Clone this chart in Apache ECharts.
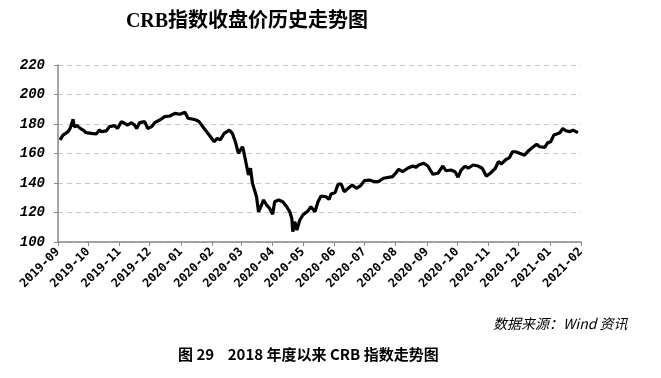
<!DOCTYPE html>
<html>
<head>
<meta charset="utf-8">
<script src="https://cdn.jsdelivr.net/npm/echarts@6/dist/echarts.min.js"></script>
<style>
    html, body { margin: 0; padding: 0; background: #fff; }
    #chart { width: 661px; height: 378px; }
</style>
</head>
<body>
<div id="chart"></div>
<script>
// CRB index close
const dates = [
    "2019-09-03", "2019-09-06", "2019-09-11", "2019-09-13", "2019-09-16", "2019-09-17", "2019-09-20", "2019-09-23",
    "2019-09-26", "2019-09-29", "2019-10-04", "2019-10-09", "2019-10-12", "2019-10-14", "2019-10-19", "2019-10-22",
    "2019-10-27", "2019-10-30", "2019-11-03", "2019-11-06", "2019-11-09", "2019-11-13", "2019-11-16", "2019-11-18",
    "2019-11-21", "2019-11-26", "2019-11-29", "2019-12-03", "2019-12-06", "2019-12-11", "2019-12-16", "2019-12-21",
    "2019-12-26", "2019-12-31", "2020-01-05", "2020-01-08", "2020-01-13", "2020-01-16", "2020-01-19", "2020-01-24",
    "2020-01-29", "2020-02-03", "2020-02-06", "2020-02-09", "2020-02-13", "2020-02-18", "2020-02-21", "2020-02-24",
    "2020-02-27", "2020-03-02", "2020-03-03", "2020-03-06", "2020-03-08", "2020-03-10", "2020-03-12", "2020-03-16",
    "2020-03-18", "2020-03-21", "2020-03-23", "2020-03-26", "2020-03-29", "2020-04-01", "2020-04-03", "2020-04-07",
    "2020-04-11", "2020-04-15", "2020-04-18", "2020-04-20", "2020-04-21", "2020-04-23", "2020-04-25", "2020-04-28",
    "2020-05-01", "2020-05-06", "2020-05-09", "2020-05-13", "2020-05-16", "2020-05-19", "2020-05-24", "2020-05-27",
    "2020-05-29", "2020-06-02", "2020-06-05", "2020-06-08", "2020-06-11", "2020-06-15", "2020-06-19", "2020-06-23",
    "2020-06-27", "2020-07-01", "2020-07-06", "2020-07-11", "2020-07-15", "2020-07-20", "2020-07-29", "2020-08-01",
    "2020-08-04", "2020-08-08", "2020-08-13", "2020-08-18", "2020-08-21", "2020-08-24", "2020-08-29", "2020-09-02",
    "2020-09-07", "2020-09-12", "2020-09-17", "2020-09-20", "2020-09-25", "2020-09-29", "2020-10-02", "2020-10-05",
    "2020-10-09", "2020-10-12", "2020-10-17", "2020-10-22", "2020-10-26", "2020-10-30", "2020-11-03", "2020-11-08",
    "2020-11-11", "2020-11-14", "2020-11-18", "2020-11-22", "2020-11-25", "2020-11-28", "2020-12-02", "2020-12-07",
    "2020-12-11", "2020-12-15", "2020-12-19", "2020-12-22", "2020-12-27", "2020-12-30", "2021-01-02", "2021-01-05",
    "2021-01-08", "2021-01-11", "2021-01-14", "2021-01-17", "2021-01-21", "2021-01-24", "2021-01-29"
];
const closes = [
    169.2, 172.5, 174.8, 177.0, 183.2, 178.2, 178.9, 177.0,
    175.9, 174.1, 173.7, 173.2, 175.9, 174.8, 175.3, 178.2,
    178.9, 177.0, 181.6, 180.5, 179.3, 180.9, 179.3, 177.0,
    180.9, 181.6, 177.0, 178.2, 180.9, 182.7, 185.0, 185.4,
    187.2, 186.6, 187.9, 183.9, 183.2, 182.7, 181.6, 177.0,
    172.5, 168.0, 170.3, 169.2, 173.7, 175.9, 173.7, 168.0,
    160.1, 164.6, 162.4, 152.2, 145.4, 150.0, 139.8, 130.7,
    120.5, 125.1, 128.5, 125.1, 122.8, 118.8, 127.3, 128.5,
    127.3, 123.9, 120.5, 116.0, 107.0, 113.8, 108.1, 114.9,
    118.3, 121.0, 123.9, 120.5, 127.3, 131.2, 130.7, 128.9,
    132.5, 133.5, 139.3, 139.3, 134.1, 136.4, 138.6, 136.4,
    138.0, 141.6, 142.0, 140.9, 140.9, 143.2, 144.3, 146.6,
    149.3, 147.7, 150.0, 151.5, 150.6, 152.2, 153.4, 151.5,
    145.9, 146.6, 151.5, 148.3, 148.8, 147.7, 143.9, 148.8,
    151.5, 150.0, 152.2, 151.5, 150.0, 144.7, 146.6, 150.0,
    154.5, 152.9, 155.6, 157.2, 161.2, 161.2, 160.1, 158.9,
    161.9, 164.2, 166.2, 164.6, 164.2, 167.3, 168.0, 172.5,
    173.2, 174.1, 177.0, 175.4, 174.8, 175.9, 174.1
];
const axisStart = "2019-09-01";
const axisEnd = "2021-02-01";
const yMin = 100;
const yMax = 220;
const yStep = 20;

const titleText = "CRB指数收盘价历史走势图";
const sourceText = "数据来源：Wind 资讯";
const captionText = "图 29    2018 年度以来 CRB 指数走势图";

const chart = echarts.init(document.getElementById("chart"));
const DAY = 24 * 3600 * 1000;

const option = {
    animation: false,
    title: {
        text: titleText,
        left: 242,
        textAlign: "center",
        top: 7,
        textStyle: {
            fontFamily: "Liberation Serif, Noto Sans CJK SC",
            fontSize: 20,
            fontWeight: "bold",
            color: "#000",
        },
    },
    grid: {
        left: 58,
        right: 80,
        top: 65,
        bottom: 136,
    },
    xAxis: {
        type: "time",
        min: axisStart,
        max: axisEnd,
        minInterval: 28 * DAY,
        maxInterval: 32 * DAY,
        axisLine: { lineStyle: { color: "#888", width: 1.5 } },
        axisTick: { show: true, length: 4, lineStyle: { color: "#888" } },
        splitLine: { show: false },
        axisLabel: {
            rotate: 45,
            margin: 8,
            formatter: "{yyyy}-{MM}",
            fontFamily: "DejaVu Sans Mono",
            fontWeight: "bold",
            fontSize: 12,
            color: "#000",
            showMinLabel: true,
            showMaxLabel: true,
        },
    },
    yAxis: {
        type: "value",
        min: yMin,
        max: yMax,
        interval: yStep,
        axisLine: { show: true, lineStyle: { color: "#888", width: 1.5 } },
        axisTick: { show: true, length: 4, lineStyle: { color: "#888" } },
        splitLine: { lineStyle: { color: "#c8c8c8", type: [5, 4] } },
        axisLabel: {
            margin: 13,
            fontFamily: "Liberation Mono",
            fontWeight: "bold",
            fontStyle: "italic",
            fontSize: 14,
            color: "#000",
        },
    },
    series: [
        {
            type: "line",
            data: dates.map((d, i) => [d, closes[i]]),
            showSymbol: false,
            lineStyle: { color: "#000", width: 3.2 },
            silent: true,
        },
    ],
    graphic: [
        {
            type: "text",
            left: 493,
            top: 317,
            style: {
                text: sourceText,
                font: "italic 14px 'Noto Sans CJK SC'",
                fill: "#000",
            },
        },
        {
            type: "text",
            left: 178,
            top: 347,
            style: {
                text: captionText,
                font: "bold 15px 'Noto Sans CJK SC'",
                fill: "#000",
            },
        },
    ],
};

chart.setOption(option);
</script>
</body>
</html>
